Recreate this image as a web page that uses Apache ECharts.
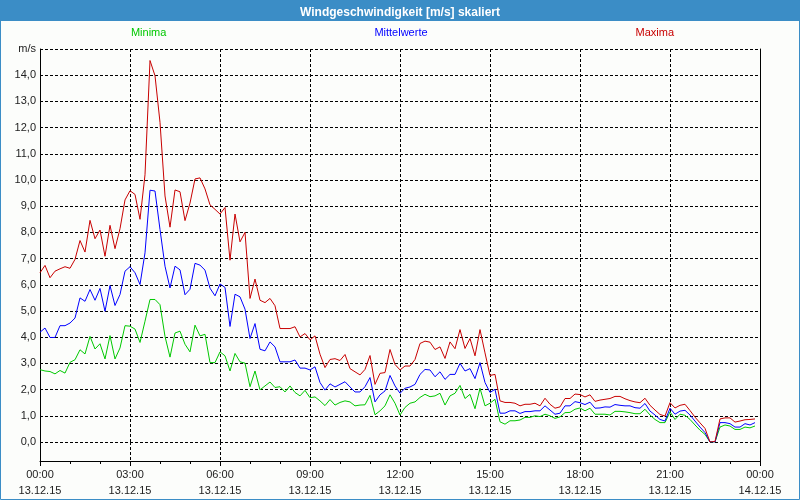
<!DOCTYPE html>
<html><head><meta charset="utf-8">
<script src="https://cdn.jsdelivr.net/npm/echarts@6/dist/echarts.min.js"></script>
<style>html,body{margin:0;padding:0;background:#fff}#c{width:800px;height:500px}</style>
</head><body><div id="c"></div>
<script>
const chartTitle = 'Windgeschwindigkeit [m/s] skaliert';
const seriesNames = ['Minima', 'Mittelwerte', 'Maxima'];
const seriesColors = ['#00c800', '#0000ff', '#c80000'];
const stepMinutes = 10;
const tickTimes = ['00:00','03:00','06:00','09:00','12:00','15:00','18:00','21:00','00:00'];
const tickDates = ['13.12.15','13.12.15','13.12.15','13.12.15','13.12.15','13.12.15','13.12.15','13.12.15','14.12.15'];

const minima = [2.76,2.71,2.69,2.6,2.73,2.63,3.04,3.14,3.52,3.36,4.03,3.55,3.75,3.17,4.06,3.17,3.59,4.44,4.42,4.31,3.8,4.61,5.44,5.44,5.24,4.03,3.24,4.16,4.23,3.73,
3.44,4.46,4.05,4.11,3.03,3.03,3.44,3.29,2.71,3.38,3.06,3.01,2.11,2.71,1.99,2.14,2.29,2.08,2.11,1.91,2.14,1.89,1.76,1.97,1.69,1.72,1.57,1.39,1.62,1.41,
1.51,1.57,1.53,1.38,1.41,1.42,1.78,1.04,1.19,1.38,1.8,1.48,1.03,1.32,1.48,1.53,1.7,1.82,1.73,1.76,1.86,1.41,1.76,1.86,2.16,1.66,1.82,1.27,2.05,1.38,
1.48,1.63,0.77,0.68,0.81,0.81,0.84,0.94,0.94,1.0,0.97,1.06,1.0,0.9,0.96,1.12,1.13,1.25,1.3,1.19,1.29,1.06,1.06,1.06,1.03,1.17,1.17,1.15,1.12,1.08,
1.08,1.25,1.03,0.86,0.74,0.74,1.15,0.86,1.06,1.02,0.86,0.65,0.45,0.29,0.0,0.0,0.57,0.65,0.61,0.48,0.48,0.57,0.54,0.61];

const mittelwerte = [4.19,4.35,3.99,3.99,4.44,4.44,4.54,4.73,5.5,5.37,5.82,5.41,5.86,4.99,5.97,5.21,5.63,6.52,6.69,6.46,6.01,7.22,9.61,9.58,8.11,6.71,5.88,6.71,6.57,5.62,
5.83,6.82,6.75,6.56,5.87,5.58,6.03,5.9,4.41,5.64,5.54,5.07,3.95,4.52,3.54,3.48,3.82,3.63,3.06,3.06,3.06,3.13,2.82,2.82,2.75,2.87,2.27,1.98,2.22,2.1,
2.2,2.3,2.1,1.91,1.91,2.11,2.46,1.53,1.8,1.95,2.54,2.14,1.86,2.05,2.1,2.2,2.58,2.77,2.75,2.49,2.68,2.39,2.58,2.58,3.0,2.71,2.8,2.42,3.03,2.27,
1.89,2.01,1.1,1.1,1.19,1.19,1.09,1.16,1.16,1.19,1.19,1.38,1.22,1.06,1.1,1.38,1.38,1.54,1.5,1.43,1.52,1.29,1.3,1.34,1.33,1.43,1.4,1.38,1.38,1.31,
1.29,1.47,1.18,1.03,0.86,0.8,1.29,1.06,1.18,1.21,1.03,0.8,0.57,0.36,0.0,0.0,0.74,0.74,0.7,0.57,0.57,0.7,0.65,0.74];

const maxima = [6.46,6.74,6.27,6.52,6.61,6.69,6.63,6.97,7.69,7.25,8.46,7.76,8.09,7.09,8.27,7.38,8.14,9.24,9.59,9.45,8.5,10.2,14.56,13.98,12.2,9.39,8.2,9.62,9.55,8.45,
9.12,10.04,10.08,9.66,9.05,8.88,8.7,8.95,6.94,8.7,7.64,8.0,5.48,6.22,5.41,5.32,5.48,5.2,4.33,4.33,4.33,4.4,4.01,4.14,3.9,4.05,3.35,2.84,3.15,3.18,
3.11,3.34,2.8,2.68,2.56,2.77,3.3,2.2,2.62,2.65,3.53,2.96,2.75,2.9,2.9,3.15,3.76,3.85,3.81,3.53,3.63,3.19,3.82,3.56,4.29,3.57,3.95,3.29,4.29,3.4,
2.54,2.58,1.57,1.51,1.51,1.48,1.38,1.44,1.44,1.48,1.38,1.67,1.44,1.29,1.34,1.66,1.66,1.83,1.81,1.72,1.8,1.55,1.6,1.63,1.66,1.74,1.74,1.65,1.58,1.53,
1.5,1.67,1.4,1.22,1.05,0.99,1.5,1.3,1.4,1.44,1.2,0.95,0.73,0.52,0.0,0.02,0.88,0.92,0.92,0.76,0.8,0.85,0.86,0.88];

const FONT = 'Liberation Sans';
const toPoints = arr => arr.map((v, i) => [i * stepMinutes / 60, v]);
const dash = { color: '#000', width: 1, type: [3, 2] };
const frame = { show: true, lineStyle: { color: '#000', width: 1 } };

const chart = echarts.init(document.getElementById('c'), null, { renderer: 'canvas' });
chart.setOption({
  animation: false,
  backgroundColor: '#fcfdfb',
  title: {
    text: chartTitle, left: 'center', top: 2, z: 10,
    textStyle: { color: '#fff', fontWeight: 'bold', fontSize: 12, fontFamily: FONT }
  },
  graphic: [
    { type: 'rect', z: 1, shape: { x: 0, y: 0, width: 800, height: 21 }, style: { fill: '#3b8dc6' } },
    { type: 'rect', z: 1, shape: { x: 0.5, y: 0.5, width: 799, height: 499 }, style: { fill: null, stroke: '#3b8dc6', lineWidth: 1 } }
  ],
  legend: {
    top: 22, left: 'center', icon: 'none', itemWidth: 0, itemHeight: 0, itemGap: 203,
    textStyle: { fontFamily: FONT, fontSize: 11 },
    data: seriesNames.map((n, k) => ({ name: n, textStyle: { color: seriesColors[k] } }))
  },
  grid: [
    { left: 40, right: 40, top: 49, bottom: 58 },
    { left: 40, right: 40, top: 442, bottom: 39 }
  ],
  xAxis: [
    { gridIndex: 0, type: 'value', min: 0, max: 24, interval: 3,
      axisLine: { show: false }, axisTick: { show: false }, axisLabel: { show: false },
      splitLine: { show: true, lineStyle: dash } },
    { gridIndex: 1, type: 'value', min: 0, max: 24, interval: 3,
      axisLine: frame,
      axisTick: { show: true, length: 5, lineStyle: { color: '#000' } },
      minorTick: { show: true, splitNumber: 3, length: 3, lineStyle: { color: '#000' } },
      axisLabel: { margin: 6, fontFamily: FONT, fontSize: 11, color: '#222', lineHeight: 16,
        formatter: v => tickTimes[v / 3] + '\n' + tickDates[v / 3] },
      splitLine: { show: true, lineStyle: dash } }
  ],
  yAxis: [
    { gridIndex: 0, type: 'value', min: 0, max: 15, interval: 1,
      axisLine: frame, axisTick: { show: false },
      axisLabel: { margin: 4, fontFamily: FONT, fontSize: 11, color: '#222',
        formatter: v => v === 15 ? 'm/s' : v.toFixed(1).replace('.', ',') },
      splitLine: { show: true, lineStyle: dash } },
    { gridIndex: 0, type: 'value', position: 'right', min: 0, max: 15,
      axisLine: frame, axisTick: { show: false }, axisLabel: { show: false }, splitLine: { show: false } },
    { gridIndex: 1, type: 'value', min: 0, max: 1,
      axisLine: frame, axisTick: { show: false }, axisLabel: { show: false }, splitLine: { show: false } },
    { gridIndex: 1, type: 'value', position: 'right', min: 0, max: 1,
      axisLine: frame, axisTick: { show: false }, axisLabel: { show: false }, splitLine: { show: false } }
  ],
  series: [
    { name: seriesNames[0], type: 'line', xAxisIndex: 0, yAxisIndex: 0, data: toPoints(minima),
      showSymbol: false, color: seriesColors[0], lineStyle: { width: 1, color: seriesColors[0] } },
    { name: seriesNames[1], type: 'line', xAxisIndex: 0, yAxisIndex: 0, data: toPoints(mittelwerte),
      showSymbol: false, color: seriesColors[1], lineStyle: { width: 1, color: seriesColors[1] } },
    { name: seriesNames[2], type: 'line', xAxisIndex: 0, yAxisIndex: 0, data: toPoints(maxima),
      showSymbol: false, color: seriesColors[2], lineStyle: { width: 1, color: seriesColors[2] } }
  ]
});
</script>
</body></html>
